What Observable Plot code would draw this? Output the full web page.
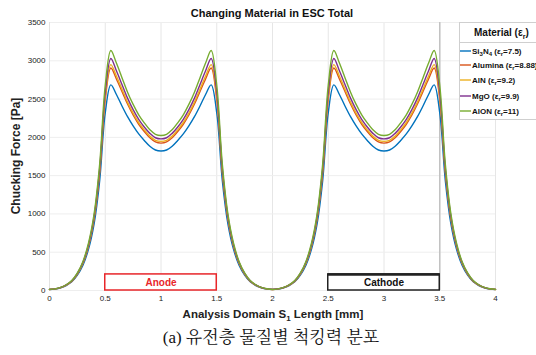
<!DOCTYPE html>
<html><head><meta charset="utf-8">
<script src="https://cdn.jsdelivr.net/npm/d3@7"></script>
<script src="https://cdn.jsdelivr.net/npm/@observablehq/plot@0.6"></script>
<style>
body{margin:0;background:#fff;width:536px;height:355px;overflow:hidden;font-family:"Liberation Sans",Arial,sans-serif}
#chart svg{display:block}
#cap{font-family:"Liberation Serif","Noto Serif CJK KR","Noto Sans CJK KR",serif;font-size:17px;text-align:center;height:29px;line-height:24px;padding-left:6px;color:#111}
</style></head><body><div id="chart"></div><div id="cap">(a) 유전층 물질별 척킹력 분포</div>
<script>
const xs = [
  0,0.05,0.1,0.15,0.2,0.25,0.3,0.35,0.4,0.45,0.5,0.55,0.6,0.65,0.7,0.75,0.8,0.85,0.9,0.95,
  1,1.05,1.1,1.15,1.2,1.25,1.3,1.35,1.4,1.45,1.5,1.55,1.6,1.65,1.7,1.75,1.8,1.85,1.9,1.95,
  2,2.05,2.1,2.15,2.2,2.25,2.3,2.35,2.4,2.45,2.5,2.55,2.6,2.65,2.7,2.75,2.8,2.85,2.9,2.95,
  3,3.05,3.1,3.15,3.2,3.25,3.3,3.35,3.4,3.45,3.5,3.55,3.6,3.65,3.7,3.75,3.8,3.85,3.9,3.95,
  4];
const si3n4 = [
  13,19,35,65,113,200,330,540,870,1435,2320,2685,2560,2410,2270,2150,2045,1960,1885,1835,
  1822,1835,1885,1960,2045,2150,2270,2410,2560,2685,2320,1435,870,540,330,200,113,65,35,19,
  13,19,35,65,113,200,330,540,870,1435,2320,2685,2560,2410,2270,2150,2045,1960,1885,1835,
  1822,1835,1885,1960,2045,2150,2270,2410,2560,2685,2320,1435,870,540,330,200,113,65,35,19,
  13];
const alumina = [
  14,21,38,70,122,215,355,580,935,1543,2492,2905,2762,2600,2435,2292,2171,2076,1995,1940,
  1925,1940,1995,2076,2171,2292,2435,2600,2762,2905,2492,1543,935,580,355,215,122,70,38,21,
  14,21,38,70,122,215,355,580,935,1543,2492,2905,2762,2600,2435,2292,2171,2076,1995,1940,
  1925,1940,1995,2076,2171,2292,2435,2600,2762,2905,2492,1543,935,580,355,215,122,70,38,21,
  14];
const aln = [
  14,21,38,71,123,217,360,588,950,1565,2530,2950,2801,2630,2460,2316,2194,2098,2016,1962,
  1948,1962,2016,2098,2194,2316,2460,2630,2801,2950,2530,1565,950,588,360,217,123,71,38,21,
  14,21,38,71,123,217,360,588,950,1565,2530,2950,2801,2630,2460,2316,2194,2098,2016,1962,
  1948,1962,2016,2098,2194,2316,2460,2630,2801,2950,2530,1565,950,588,360,217,123,71,38,21,
  14];
const mgo = [
  15,21,39,73,126,223,368,600,968,1595,2586,3030,2869,2691,2512,2362,2235,2135,2052,1995,
  1980,1995,2052,2135,2235,2362,2512,2691,2869,3030,2586,1595,968,600,368,223,126,73,39,21,
  15,21,39,73,126,223,368,600,968,1595,2586,3030,2869,2691,2512,2362,2235,2135,2052,1995,
  1980,1995,2052,2135,2235,2362,2512,2691,2869,3030,2586,1595,968,600,368,223,126,73,39,21,
  15];
const alon = [
  15,22,40,75,130,230,380,620,1000,1650,2680,3135,2970,2780,2590,2430,2295,2190,2100,2040,
  2025,2040,2100,2190,2295,2430,2590,2780,2970,3135,2680,1650,1000,620,380,230,130,75,40,22,
  15,22,40,75,130,230,380,620,1000,1650,2680,3135,2970,2780,2590,2430,2295,2190,2100,2040,
  2025,2040,2100,2190,2295,2430,2590,2780,2970,3135,2680,1650,1000,620,380,230,130,75,40,22,
  15];
const seriesNames = ["Si3N4 (εr=7.5)","Alumina (εr=8.88)","AlN (εr=9.2)","MgO (εr=9.9)","AlON (εr=11)"];
const seriesValues = [si3n4, alumina, aln, mgo, alon];
const seriesColors = ["#0072BD","#D95319","#EDB120","#7E2F8E","#77AC30"];
const legendParts = [
  [["Si"],["3",1],["N"],["4",1],[" (ε"],["r",1],["=7.5)"]],
  [["Alumina (ε"],["r",1],["=8.88)"]],
  [["AlN (ε"],["r",1],["=9.2)"]],
  [["MgO (ε"],["r",1],["=9.9)"]],
  [["AlON (ε"],["r",1],["=11)"]]
];
const xTicks = [0,0.5,1,1.5,2,2.5,3,3.5,4];
const yTicks = [0,500,1000,1500,2000,2500,3000,3500];
const anode = [{x1:0.5, x2:1.5, h:210, label:"Anode"}];
const cathode = [{x1:2.5, x2:3.5, h:210, label:"Cathode"}];

const rows = seriesNames.flatMap((s, i) => xs.map((x, j) => ({x, y: seriesValues[i][j], s})));

const chart = Plot.plot({
  width: 536, height: 326,
  marginLeft: 49, marginRight: 41, marginTop: 22, marginBottom: 36,
  x: {domain: [0, 4]},
  y: {domain: [0, 3500]},
  color: {domain: seriesNames, range: seriesColors},
  style: {fontFamily: "Liberation Sans, Arial, sans-serif", fontSize: "8px", color: "#222", background: "#fff"},
  marks: [
    Plot.gridX(xTicks, {stroke: "#e6e6e6", strokeOpacity: 1}),
    Plot.gridY(yTicks, {stroke: "#eeeeee", strokeOpacity: 1}),
    Plot.ruleX([0], {stroke: "#e2e2e2"}),
    Plot.ruleX([3.5], {stroke: "#c2c2c2", strokeWidth: 1.5}),
    Plot.rect(anode, {x1: "x1", x2: "x2", y1: 0, y2: "h", fill: "white", stroke: "#e8262a", strokeWidth: 1.5}),
    Plot.text(anode, {x: d => (d.x1 + d.x2) / 2, y: d => d.h / 2, text: "label", fill: "#e8262a", fontWeight: "bold", fontSize: 10}),
    Plot.rect(cathode, {x1: "x1", x2: "x2", y1: 0, y2: "h", fill: "white", stroke: "#222", strokeWidth: 1.5}),
    Plot.ruleY(cathode, {y: "h", x1: "x1", x2: "x2", stroke: "#222", strokeWidth: 2.5}),
    Plot.text(cathode, {x: d => (d.x1 + d.x2) / 2, y: d => d.h / 2, text: "label", fill: "#111", fontWeight: "bold", fontSize: 10}),
    Plot.line(rows, {x: "x", y: "y", z: "s", stroke: "s", strokeWidth: 1.4, curve: "catmull-rom"}),
    Plot.axisX(xTicks, {tickSize: 0, tickPadding: 5, label: null, tickFormat: d => String(d)}),
    Plot.axisY(yTicks, {tickSize: 0, tickPadding: 4, label: null, tickFormat: d => String(d)})
  ]
});
document.getElementById("chart").appendChild(chart);

const svg = d3.select(chart);
const font = "Liberation Sans, Arial, sans-serif";
function rich(sel, parts, subSize, dy) {
  let shifted = false;
  parts.forEach(([t, sub]) => {
    const ts = sel.append("tspan").text(t);
    if (sub && !shifted) { ts.attr("dy", dy).attr("font-size", subSize); shifted = true; }
    else if (sub) { ts.attr("font-size", subSize); }
    else if (shifted) { ts.attr("dy", -dy); shifted = false; }
  });
}
svg.append("text").attr("x", 272).attr("y", 17).attr("text-anchor", "middle")
  .attr("font-family", font).attr("font-size", 11).attr("font-weight", "bold").attr("fill", "#111")
  .text("Changing Material in ESC Total");
const xt = svg.append("text").attr("x", 273).attr("y", 318).attr("text-anchor", "middle")
  .attr("font-family", font).attr("font-size", 11.5).attr("font-weight", "bold").attr("fill", "#222");
rich(xt, [["Analysis Domain S"],["1",1],[" Length [mm]"]], 8, 3);
svg.append("text").attr("transform", "translate(20,156) rotate(-90)").attr("text-anchor", "middle")
  .attr("font-family", font).attr("font-size", 12).attr("font-weight", "bold").attr("fill", "#222")
  .text("Chucking Force [Pa]");

const lg = svg.append("g").attr("font-family", font).attr("text-anchor", "start");
lg.append("rect").attr("x", 459.5).attr("y", 22.5).attr("width", 90).attr("height", 97).attr("fill", "white").attr("stroke", "#cfcfcf");
lg.append("line").attr("x1", 459.5).attr("x2", 536).attr("y1", 42.5).attr("y2", 42.5).attr("stroke", "#cfcfcf");
const hd = lg.append("text").attr("x", 474).attr("y", 36).attr("text-anchor", "start").attr("font-size", 10).attr("font-weight", "bold").attr("fill", "#111");
rich(hd, [["Material (ε"],["r",1],[")"]], 7, 3);
const ly = [51, 65, 80, 96, 111];
seriesNames.forEach((s, i) => {
  lg.append("line").attr("x1", 460).attr("x2", 471).attr("y1", ly[i]).attr("y2", ly[i])
    .attr("stroke", seriesColors[i]).attr("stroke-width", 1.4);
  const t = lg.append("text").attr("x", 472).attr("y", ly[i] + 2.8).attr("text-anchor", "start").attr("font-size", 8)
    .attr("font-weight", "bold").attr("fill", "#111");
  rich(t, legendParts[i], 6, 2);
});
</script></body></html>
